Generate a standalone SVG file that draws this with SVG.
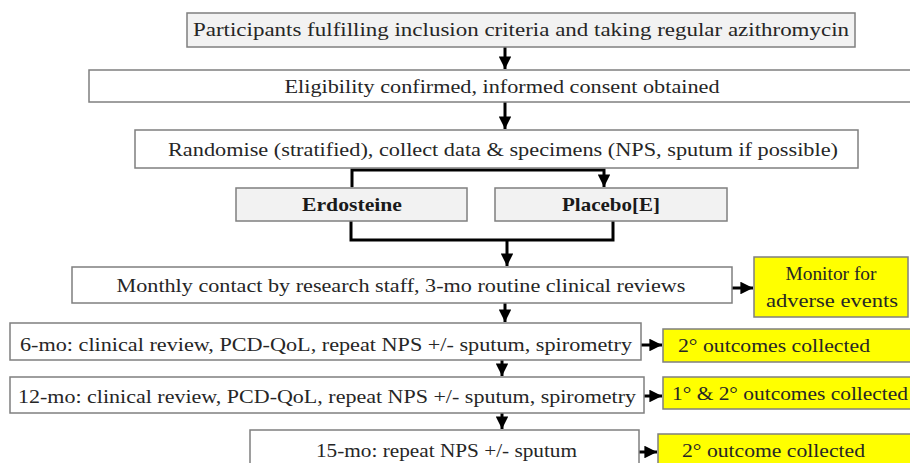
<svg xmlns="http://www.w3.org/2000/svg" width="910" height="463" viewBox="0 0 910 463">
<style>
.box{fill:#ffffff;stroke:#7f7f7f;stroke-width:1.5}
.grey{fill:#f2f2f2;stroke:#7f7f7f;stroke-width:1.5}
.yel{fill:#ffff00;stroke:#7f7f7f;stroke-width:1.5}
.t{font-family:'Liberation Serif','Times New Roman',serif;font-size:19px;fill:#262626}
.b{font-weight:bold;fill:#1a1a1a}
.c{stroke:#000;stroke-width:3;fill:none}
</style>
<defs>
<marker id="ah" viewBox="0 0 10 10" refX="10" refY="5" markerWidth="4.2" markerHeight="4.2" orient="auto" markerUnits="strokeWidth">
<path d="M0,0 L10,5 L0,10 z" fill="#000"/>
</marker>
</defs>
<rect width="910" height="463" fill="#fff"/>
<g id="connectors">
<path class="c" d="M505,47 V69" marker-end="url(#ah)"/>
<path class="c" d="M505,102 V129" marker-end="url(#ah)"/>
<path class="c" d="M352,187 V170 H604 V187" marker-start="url(#ah)" marker-end="url(#ah)"/>
<path class="c" d="M351,221 V240 H613 V221"/>
<path class="c" d="M507,240 V266" marker-end="url(#ah)"/>
<path class="c" d="M505,303 V322" marker-end="url(#ah)"/>
<path class="c" d="M502,360 V376" marker-end="url(#ah)"/>
<path class="c" d="M502,413 V429" marker-end="url(#ah)"/>
<path class="c" d="M732,288 H753" marker-end="url(#ah)"/>
<path class="c" d="M641,345 H662" marker-end="url(#ah)"/>
<path class="c" d="M644,396 H662" marker-end="url(#ah)"/>
<path class="c" d="M634,452 H657" marker-end="url(#ah)"/>
</g>
<g id="n1"><rect class="grey" x="187" y="13" width="668" height="34"/>
<text class="t" x="521" y="36" text-anchor="middle" textLength="656" lengthAdjust="spacingAndGlyphs">Participants fulfilling inclusion criteria and taking regular azithromycin</text></g>
<g id="n2"><rect class="box" x="89" y="70" width="825" height="32"/>
<text class="t" x="502" y="93" text-anchor="middle" textLength="435" lengthAdjust="spacingAndGlyphs">Eligibility confirmed, informed consent obtained</text></g>
<g id="n3"><rect class="box" x="135" y="130" width="723" height="38"/>
<text class="t" x="503" y="156" text-anchor="middle" textLength="670" lengthAdjust="spacingAndGlyphs">Randomise (stratified), collect data &amp; specimens (NPS, sputum if possible)</text></g>
<g id="n4"><rect class="grey" x="236" y="188" width="231" height="33"/>
<text class="t b" x="352" y="211" text-anchor="middle" textLength="100" lengthAdjust="spacingAndGlyphs">Erdosteine</text></g>
<g id="n5"><rect class="grey" x="495" y="188" width="232" height="33"/>
<text class="t b" x="611" y="211" text-anchor="middle" textLength="98" lengthAdjust="spacingAndGlyphs">Placebo[E]</text></g>
<g id="n6"><rect class="box" x="72" y="267" width="660" height="36"/>
<text class="t" x="401" y="292" text-anchor="middle" textLength="569" lengthAdjust="spacingAndGlyphs">Monthly contact by research staff, 3-mo routine clinical reviews</text></g>
<g id="n7"><rect class="yel" x="754" y="257" width="154" height="60"/>
<text class="t" x="831" y="280" text-anchor="middle" textLength="91" lengthAdjust="spacingAndGlyphs">Monitor for</text>
<text class="t" x="832" y="307" text-anchor="middle" textLength="132" lengthAdjust="spacingAndGlyphs">adverse events</text></g>
<g id="n8"><rect class="box" x="10" y="323" width="631" height="37"/>
<text class="t" x="20" y="351" textLength="612" lengthAdjust="spacingAndGlyphs">6-mo: clinical review, PCD-QoL, repeat NPS +/- sputum, spirometry</text></g>
<g id="n9"><rect class="yel" x="663" y="329" width="260" height="33"/>
<text class="t" x="678" y="352" textLength="192" lengthAdjust="spacingAndGlyphs">2° outcomes collected</text></g>
<g id="n10"><rect class="box" x="10" y="377" width="634" height="36"/>
<text class="t" x="18" y="403" textLength="618" lengthAdjust="spacingAndGlyphs">12-mo: clinical review, PCD-QoL, repeat NPS +/- sputum, spirometry</text></g>
<g id="n11"><rect class="yel" x="663" y="377" width="260" height="32"/>
<text class="t" x="672" y="400" textLength="236" lengthAdjust="spacingAndGlyphs">1° &amp; 2° outcomes collected</text></g>
<g id="n12"><rect class="box" x="250" y="430" width="389" height="40"/>
<text class="t" x="316" y="457" textLength="261" lengthAdjust="spacingAndGlyphs">15-mo: repeat NPS +/- sputum</text></g>
<g id="n13"><rect class="yel" x="658" y="434" width="265" height="40"/>
<text class="t" x="682" y="457" textLength="183" lengthAdjust="spacingAndGlyphs">2° outcome collected</text></g>
</svg>
